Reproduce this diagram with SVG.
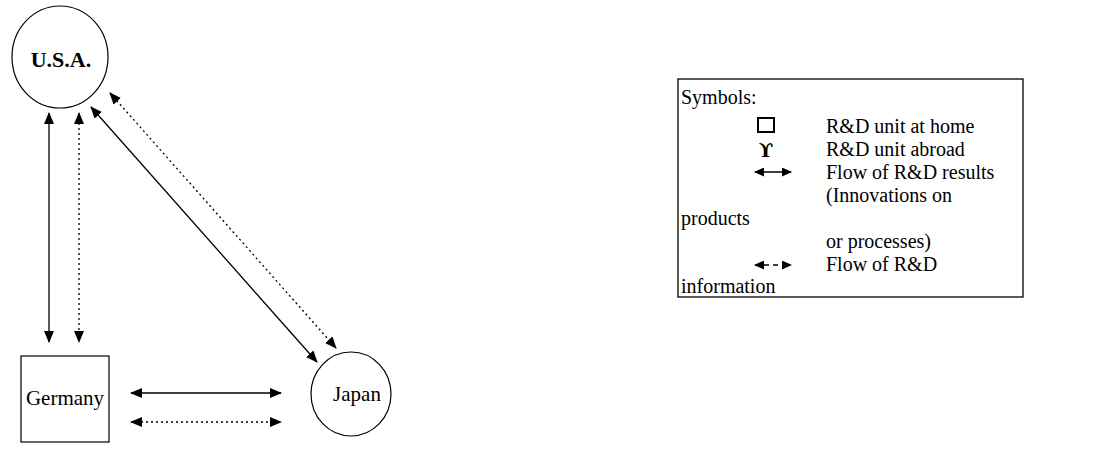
<svg xmlns="http://www.w3.org/2000/svg" width="1095" height="451" viewBox="0 0 1095 451">
<defs>
<marker id="ah" markerUnits="userSpaceOnUse" markerWidth="12" markerHeight="10" refX="11" refY="5" orient="auto-start-reverse" viewBox="0 0 12 10">
<path d="M0,0 L12,5 L0,10 z" fill="#000"/>
</marker>
<marker id="ahs" markerUnits="userSpaceOnUse" markerWidth="10" markerHeight="9" refX="9" refY="4.5" orient="auto-start-reverse" viewBox="0 0 10 9">
<path d="M0,0 L10,4.5 L0,9 z" fill="#000"/>
</marker>
</defs>
<style>
.node{fill:#fff;stroke:#000;stroke-width:1.2}
.lbl{font-family:"Liberation Serif","Times New Roman",serif;fill:#000;text-anchor:middle}
.solid{stroke:#000;stroke-width:1.3;fill:none;marker-start:url(#ah);marker-end:url(#ah)}
.dot{stroke:#000;stroke-width:1.3;fill:none;stroke-dasharray:2 3;marker-start:url(#ah);marker-end:url(#ah)}
.leg{font-family:"Liberation Serif","Times New Roman","DejaVu Serif",serif;font-size:20px;fill:#000}
</style>
<rect width="1095" height="451" fill="#fff"/>
<g id="usa">
<ellipse class="node" cx="60" cy="57" rx="48" ry="51"/>
<text class="lbl" x="61" y="67" font-size="22" font-weight="bold">U.S.A.</text>
</g>
<g id="germany">
<rect class="node" x="21" y="356" width="88" height="86"/>
<text class="lbl" x="65" y="405" font-size="21">Germany</text>
</g>
<g id="japan">
<ellipse class="node" cx="351" cy="394" rx="40" ry="42"/>
<text class="lbl" x="357" y="401" font-size="21">Japan</text>
</g>
<g id="connectors">
<line class="solid" x1="49" y1="113" x2="49" y2="342"/>
<line class="dot" x1="79" y1="113" x2="79" y2="342"/>
<line class="solid" x1="91" y1="107" x2="317" y2="362"/>
<line class="dot" x1="110" y1="93" x2="336" y2="348"/>
<line class="solid" x1="131" y1="393" x2="281" y2="393"/>
<line class="dot" x1="131" y1="422" x2="281" y2="422"/>
</g>
<g id="legend">
<rect x="678" y="79" width="345" height="218" fill="none" stroke="#000" stroke-width="1.3"/>
<text class="leg" x="681" y="104">Symbols:</text>
<rect x="758" y="118" width="16" height="14" fill="none" stroke="#000" stroke-width="2"/>
<text class="leg" x="826" y="133">R&amp;D unit at home</text>
<text x="766" y="157" text-anchor="middle" font-family="'DejaVu Serif',serif" font-size="19" font-weight="bold">ϒ</text>
<text class="leg" x="826" y="156">R&amp;D unit abroad</text>
<line x1="755" y1="172" x2="791" y2="172" stroke="#000" stroke-width="1.6" marker-start="url(#ahs)" marker-end="url(#ahs)"/>
<text class="leg" x="826" y="179">Flow of R&amp;D results</text>
<text class="leg" x="826" y="202">(Innovations on</text>
<text class="leg" x="681" y="225">products</text>
<text class="leg" x="826" y="248">or processes)</text>
<line x1="755" y1="265" x2="791" y2="265" stroke="#000" stroke-width="1.6" stroke-dasharray="5 4" marker-start="url(#ahs)" marker-end="url(#ahs)"/>
<text class="leg" x="826" y="271">Flow of R&amp;D</text>
<text class="leg" x="681" y="293">information</text>
</g>
</svg>
